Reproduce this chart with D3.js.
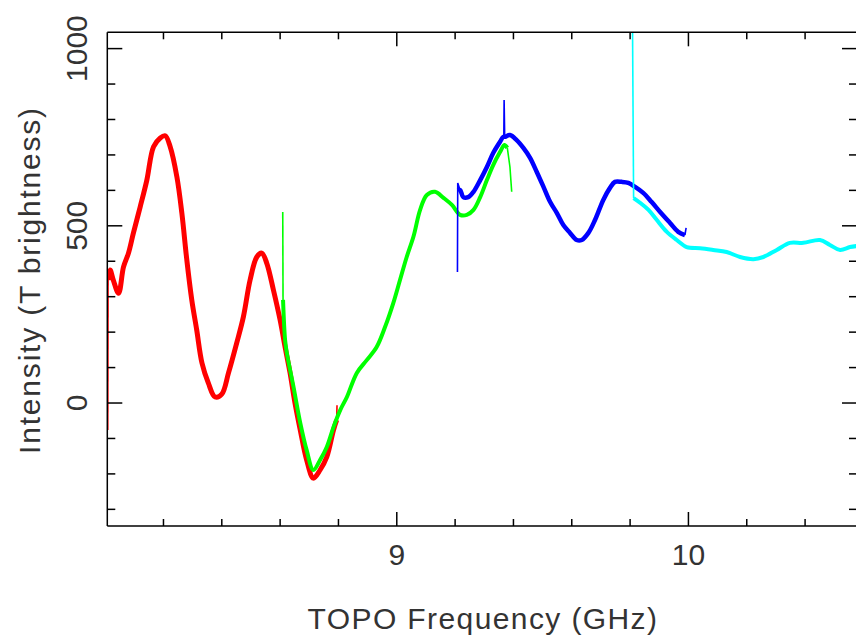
<!DOCTYPE html>
<html>
<head>
<meta charset="utf-8">
<script src="https://cdn.jsdelivr.net/npm/d3@7"></script>
<style>
  body { margin: 0; background: #fff; }
  text { font-family: "Liberation Sans", "DejaVu Sans", sans-serif; fill: #333; }
</style>
</head>
<body>
<div id="chart"></div>
<script>
// spectra, [frequency GHz, intensity]
var redData = [[8.010,347],[8.017,375],[8.028,347],[8.046,310],[8.063,384],[8.080,423],[8.097,480],[8.120,553],
  [8.143,629],[8.166,723],[8.189,748],[8.206,754],[8.223,723],[8.246,638],[8.263,536],[8.280,404],[8.297,291],
  [8.314,206],[8.332,113],[8.354,56],[8.377,17],[8.400,25],[8.423,85],[8.451,169],[8.474,243],[8.497,347],
  [8.520,412],[8.537,423],[8.554,395],[8.577,319],[8.600,234],[8.617,158],[8.634,85],[8.651,0],[8.669,-76],
  [8.691,-161],[8.714,-212],[8.737,-189],[8.760,-152],[8.783,-76],[8.794,-48]];
var greenData = [[8.610,291],[8.617,178],[8.623,141],[8.646,45],[8.669,-56],[8.691,-133],[8.714,-189],
  [8.737,-161],[8.760,-124],[8.783,-68],[8.806,-20],[8.829,17],[8.863,85],[8.897,121],[8.931,158],[8.960,215],
  [8.988,282],[9.011,347],[9.034,412],[9.057,469],[9.080,545],[9.103,587],[9.131,596],[9.160,579],[9.189,559],
  [9.217,531],[9.240,531],[9.263,545],[9.286,581],[9.309,629],[9.331,672],[9.354,708],[9.369,728],[9.379,720]];
var blueData = [[9.209,600],[9.217,601],[9.228,581],[9.245,581],[9.263,596],[9.286,629],[9.309,666],
  [9.331,706],[9.354,737],[9.365,751],[9.370,751],[9.388,756],[9.411,742],[9.434,720],[9.457,692],[9.480,652],
  [9.503,610],[9.526,567],[9.549,536],[9.571,502],[9.594,480],[9.617,460],[9.634,460],[9.657,480],[9.680,517],
  [9.708,573],[9.731,607],[9.748,624],[9.771,624],[9.794,621],[9.817,610],[9.845,593],[9.874,567],[9.903,539],
  [9.937,508],[9.965,483],[9.988,474]];
var cyanData = [[9.812,578],[9.834,565],[9.863,545],[9.891,517],[9.926,483],[9.960,460],[9.994,440],
  [10.040,437],[10.085,432],[10.131,426],[10.177,412],[10.223,406],[10.257,412],[10.303,432],[10.348,452],
  [10.394,452],[10.451,460],[10.485,446],[10.520,432],[10.554,440],[10.578,443]];

// narrow spikes at the band edges
var redSpikes = [[[8.009,-76],[8.010,347]], [[8.794,-48],[8.795,-6]]];
var greenSpikes = [[[8.609,539],[8.610,291]], [[9.379,720],[9.388,666],[9.394,596]]];
var blueSpikes = [[[9.208,370],[9.209,621],[9.217,601]], [[9.367,751],[9.368,855],[9.370,751]], [[9.988,474],[9.992,494]]];
var cyanSpikes = [[[9.808,1100],[9.812,578]]];

var xMajor = [9, 10];
var xMinor = [8.2, 8.4, 8.6, 8.8, 9.2, 9.4, 9.6, 9.8, 10.2, 10.4];
var yMajor = [0, 500, 1000];
var yMinor = [-300, -200, -100, 100, 200, 300, 400, 600, 700, 800, 900];

function drawChart() {
  var svgWidth = 856, svgHeight = 642;
  var margin = { left: 107.3, right: 857, top: 32.3, bottom: 526 };

  var svg = d3.select("#chart").append("svg")
    .attr("width", svgWidth)
    .attr("height", svgHeight);

  var x = d3.scaleLinear().domain([8.0074, 10.578]).range([margin.left, margin.right]);
  var y = d3.scaleLinear().domain([-347, 1046]).range([margin.bottom, margin.top]);

  svg.append("clipPath").attr("id", "clip")
    .append("rect")
    .attr("x", margin.left).attr("y", margin.top)
    .attr("width", margin.right - margin.left).attr("height", margin.bottom - margin.top);

  var plot = svg.append("g").attr("clip-path", "url(#clip)");
  var smooth = d3.line().x(d => x(d[0])).y(d => y(d[1])).curve(d3.curveCatmullRom.alpha(0.5));
  var line = d3.line().x(d => x(d[0])).y(d => y(d[1]));

  function drawSeries(data, spikes, color, w) {
    plot.append("path")
      .attr("d", smooth(data))
      .attr("fill", "none")
      .attr("stroke", color)
      .attr("stroke-width", w)
      .attr("stroke-linejoin", "round");
    spikes.forEach(function(s) {
      plot.append("path")
        .attr("d", line(s))
        .attr("fill", "none")
        .attr("stroke", color)
        .attr("stroke-width", 1.6);
    });
  }

  drawSeries(redData, redSpikes, "#ff0000", 5);
  drawSeries(greenData, greenSpikes, "#00ff00", 4);
  drawSeries(blueData, blueSpikes, "#0000ff", 4.5);
  drawSeries(cyanData, cyanSpikes, "#00ffff", 4);

  // frame
  var axes = svg.append("g").attr("stroke", "#000").attr("stroke-width", 1.5);
  axes.append("line").attr("x1", margin.left).attr("x2", margin.left).attr("y1", margin.top).attr("y2", margin.bottom);
  axes.append("line").attr("x1", margin.left).attr("x2", margin.right).attr("y1", margin.top).attr("y2", margin.top);
  axes.append("line").attr("x1", margin.left).attr("x2", margin.right).attr("y1", margin.bottom).attr("y2", margin.bottom);
  axes.append("line").attr("x1", margin.right).attr("x2", margin.right).attr("y1", margin.top).attr("y2", margin.bottom);

  // ticks, all pointing inward
  function xTicks(vals, len) {
    vals.forEach(function(v) {
      axes.append("line").attr("x1", x(v)).attr("x2", x(v)).attr("y1", margin.bottom).attr("y2", margin.bottom - len);
      axes.append("line").attr("x1", x(v)).attr("x2", x(v)).attr("y1", margin.top).attr("y2", margin.top + len);
    });
  }
  function yTicks(vals, len) {
    vals.forEach(function(v) {
      axes.append("line").attr("x1", margin.left).attr("x2", margin.left + len).attr("y1", y(v)).attr("y2", y(v));
      axes.append("line").attr("x1", margin.right).attr("x2", margin.right - len).attr("y1", y(v)).attr("y2", y(v));
    });
  }
  xTicks(xMajor, 14);
  xTicks(xMinor, 7);
  yTicks(yMajor, 15);
  yTicks(yMinor, 8);

  svg.selectAll(".xlab")
    .data(xMajor)
    .enter()
    .append("text")
    .attr("class", "xlab")
    .attr("x", d => x(d))
    .attr("y", 565)
    .attr("text-anchor", "middle")
    .attr("font-size", "30px")
    .text(d => d);

  svg.selectAll(".ylab")
    .data(yMajor)
    .enter()
    .append("text")
    .attr("class", "ylab")
    .attr("transform", d => `translate(87, ${y(d)}) rotate(-90)`)
    .attr("text-anchor", "middle")
    .attr("font-size", "30px")
    .text(d => d);

  svg.append("text")
    .attr("x", 483)
    .attr("y", 629)
    .attr("text-anchor", "middle")
    .attr("font-size", "30px")
    .attr("letter-spacing", "1.4px")
    .text("TOPO Frequency (GHz)");

  svg.append("text")
    .attr("transform", "translate(40, 280) rotate(-90)")
    .attr("text-anchor", "middle")
    .attr("font-size", "30px")
    .attr("letter-spacing", "1.8px")
    .text("Intensity (T brightness)");
}

drawChart();
</script>
</body>
</html>
